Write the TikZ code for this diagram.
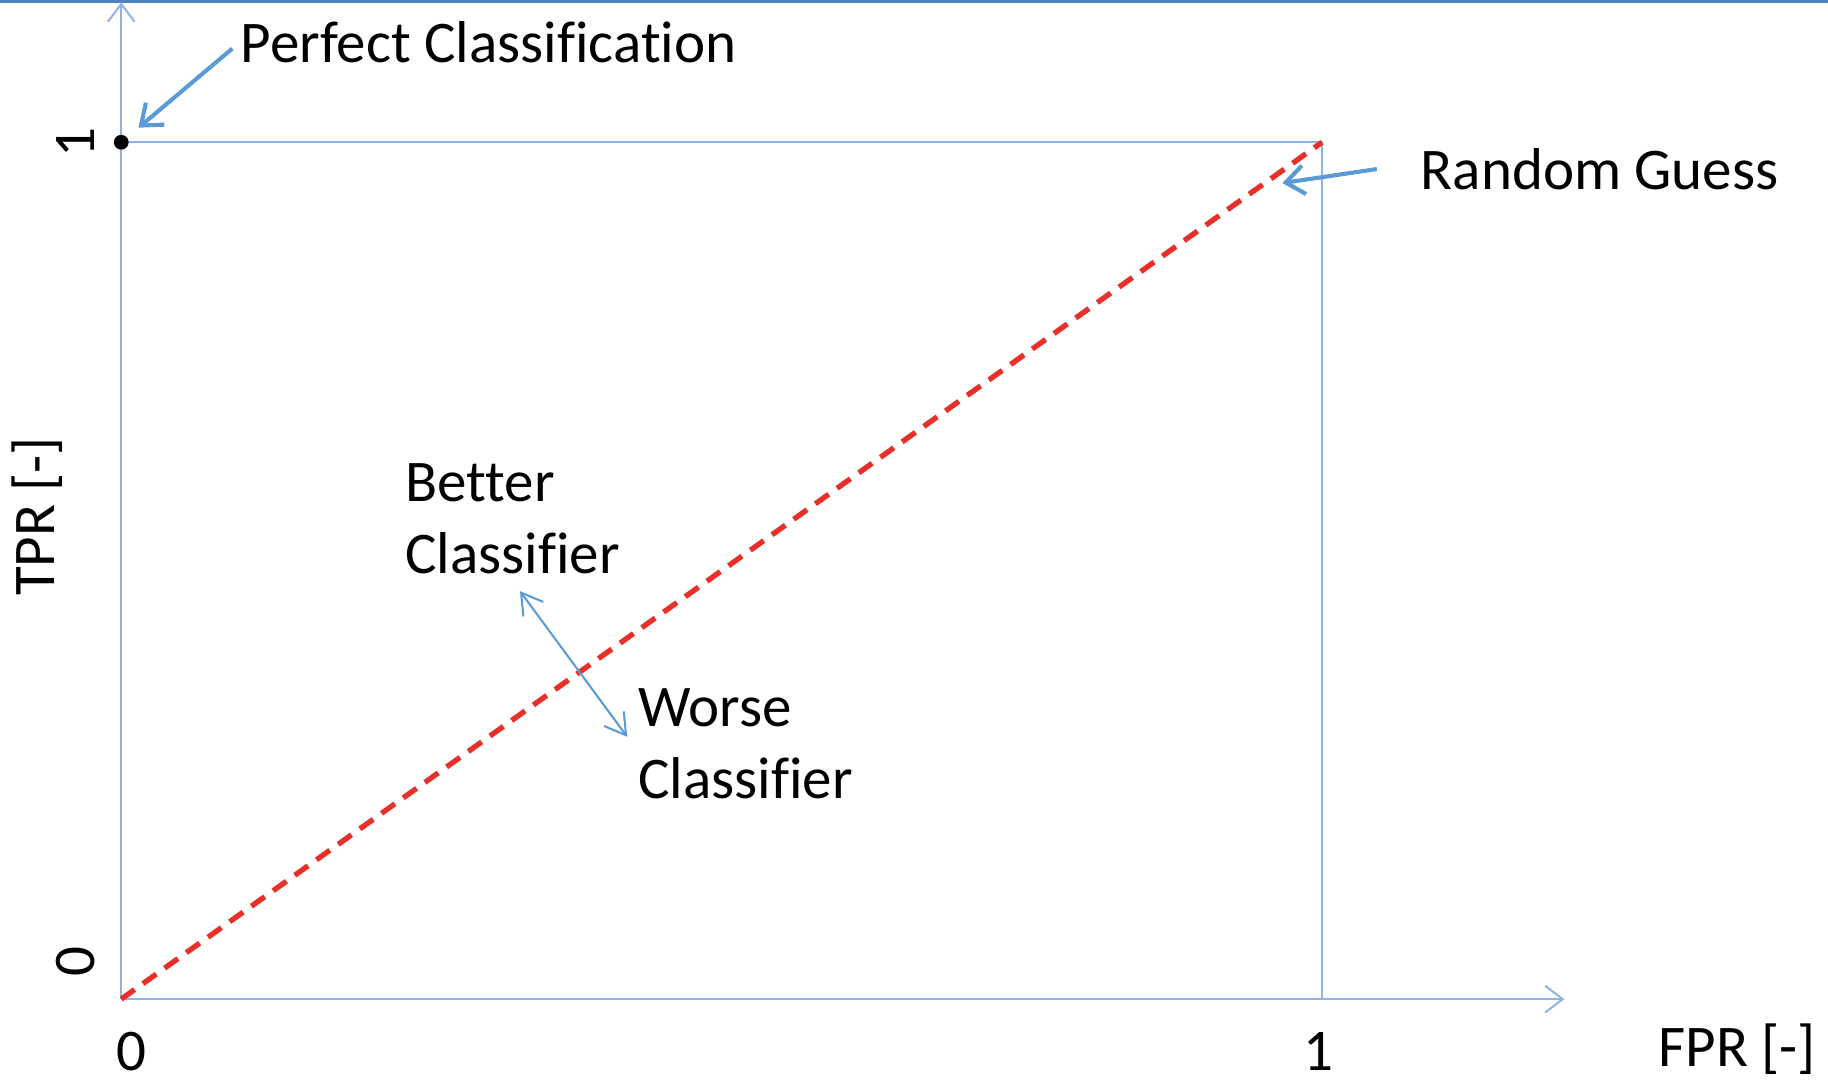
\documentclass[tikz,border=0pt]{standalone}
\usepackage{fontspec}
\setmainfont{Carlito}[Ligatures={NoCommon}]
\usepackage{tikz}
\usepackage{xcolor}
\usetikzlibrary{arrows.meta}
\definecolor{axisblue}{HTML}{8EB4E3}
\definecolor{pointerblue}{HTML}{5B9BD5}
\definecolor{frameblue}{HTML}{4F81BD}
\definecolor{guessred}{HTML}{E8302A}
\newcommand\lbl[1]{\fontsize{14.4}{17.6}\selectfont #1}

\begin{document}
\begin{tikzpicture}[x=0.01cm, y=-0.01cm, every node/.style={inner sep=0pt, font=\lbl{}}, axis/.style={draw=axisblue, line width=0.5pt}, axisarrow/.style={axis, -{Straight Barb[length=4.3pt, width=6.5pt, line width=0.5pt]}}, pointer/.style={draw=pointerblue, line width=1pt, -{Straight Barb[length=4.5pt, width=7pt, line width=1pt]}}, twoway/.style={draw=pointerblue, line width=0.5pt, {Straight Barb[length=5pt, width=6pt]}-{Straight Barb[length=5pt, width=6pt]}}, guess/.style={draw=guessred, line width=1.3pt, dash pattern=on 4pt off 2.5pt}]
\useasboundingbox (0,0) rectangle (1568,930);
\draw[frameblue, line width=0.7pt] (0,1) -- (1568,1);

\coordinate (O) at (104,857);
\coordinate (xend) at (1342,857);
\coordinate (yend) at (104,2);
\coordinate (tl) at (104,122);
\coordinate (tr) at (1134,122);
\coordinate (br) at (1134,857);

\path[axisarrow] (O) -- (xend);
\path[axisarrow] (O) -- (yend);
\path[axis] (tl) -- (tr) -- (br);
\path[guess] (O) -- (tr);
\fill (tl) circle (1.8pt);

\node[rotate=90] (ytick1) at (65,122) {1};
\node[rotate=90] (ytick0) at (65,825) {0};
\node[rotate=90] (ylab) at (32,443) {TPR [-]};
\node (xtick0) at (113,902) {0};
\node (xtick1) at (1131,902) {1};
\node (xlab) at (1490,900) {FPR [-]};

\node[anchor=west] (perfect) at (206,36) {Perfect Classification};
\path[pointer, shorten <=2.5pt, shorten >=5.5pt] (perfect.west) -- (tl);

\node[anchor=west] (random) at (1218,145) {Random Guess};
\coordinate (randomfoot) at (1181,145);
\coordinate (randomtip) at (1100,157);
\path[pointer] (randomfoot) -- (randomtip);

\node[anchor=north west, align=left] (better) at (347,397) {Better\\Classifier};
\node[anchor=north west, align=left] (worse) at (547,590) {Worse\\Classifier};
\coordinate (bettertip) at (446,507);
\coordinate (worsetip) at (538,632);
\path[twoway] (bettertip) -- (worsetip);
\end{tikzpicture}
\end{document}
